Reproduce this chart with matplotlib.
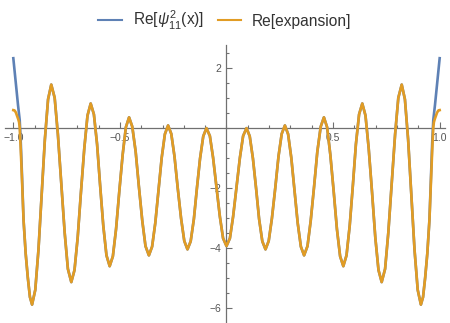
import numpy as np
import matplotlib
matplotlib.use('Agg')
import matplotlib.pyplot as plt
from matplotlib.ticker import MultipleLocator, FixedLocator

plt.rcParams['font.family'] = ['Liberation Sans', 'DejaVu Sans']
plt.rcParams['mathtext.fontset'] = 'custom'
plt.rcParams['mathtext.rm'] = 'Liberation Sans'
plt.rcParams['mathtext.it'] = 'Liberation Sans:italic'

# right half of the curve (x >= 0); the plot is symmetric
x_half = [0, 0.016, 0.031, 0.047, 0.063, 0.078, 0.094, 0.109, 0.124, 0.139,
          0.153, 0.168, 0.183, 0.198, 0.213, 0.229, 0.244, 0.259, 0.274, 0.289,
          0.304, 0.319, 0.334, 0.349, 0.364, 0.380, 0.395, 0.411, 0.426, 0.442,
          0.457, 0.472, 0.487, 0.503, 0.518, 0.533, 0.548, 0.563, 0.578, 0.593,
          0.607, 0.622, 0.637, 0.652, 0.667, 0.683, 0.698, 0.713, 0.728, 0.744,
          0.759, 0.775, 0.791, 0.806, 0.822, 0.837, 0.852, 0.867, 0.882, 0.897,
          0.912, 0.922, 0.932, 0.942, 0.952, 0.960, 0.965, 0.970, 0.973, 0.977,
          0.982, 0.988, 0.994, 1.000]
expansion_half = [-3.95, -3.69, -2.97, -1.99, -1.00, -0.28, -0.02, -0.29, -1.03, -2.04,
                  -3.05, -3.79, -4.06, -3.78, -3.03, -2.00, -0.96, -0.21, 0.07, -0.22,
                  -1.01, -2.10, -3.18, -3.97, -4.26, -3.95, -3.11, -1.96, -0.81, 0.03,
                  0.34, 0.01, -0.90, -2.14, -3.38, -4.29, -4.62, -4.26, -3.27, -1.91,
                  -0.56, 0.44, 0.80, 0.40, -0.69, -2.18, -3.66, -4.75, -5.15, -4.71,
                  -3.51, -1.86, -0.22, 0.99, 1.43, 0.94, -0.40, -2.24, -4.07, -5.41,
                  -5.90, -5.65, -5.00, -4.20, -3.08, -1.60, -0.75, 0.00, 0.18, 0.28,
                  0.38, 0.50, 0.57, 0.58]

# where the exact function leaves the expansion near the ends
psi_tail_x = [0.960, 0.965, 0.970, 0.978, 0.985, 0.993, 1.000]
psi_tail_y = [-1.45, -0.50, 0.25, 0.75, 1.25, 1.80, 2.31]

xh = np.array(x_half)
yh = np.array(expansion_half)
keep = xh <= 0.952
px_half = np.concatenate([xh[keep], psi_tail_x])
py_half = np.concatenate([yh[keep], psi_tail_y])


def mirror(x, y):
    x = np.asarray(x)
    y = np.asarray(y)
    return np.concatenate([-x[::-1], x[1:]]), np.concatenate([y[::-1], y[1:]])


x_exp, y_exp = mirror(xh, yh)
x_psi, y_psi = mirror(px_half, py_half)

blue = '#5E81B5'
orange = '#E19C24'
axis_col = '#707070'
text_col = '#555555'

fig = plt.figure(figsize=(4.5, 3.23), dpi=100)
ax = fig.add_axes([5 / 450, 1 / 323, 440 / 450, 277 / 323])

ax.plot(x_psi, y_psi, color=blue, lw=1.9, label=r'Re[$\psi^{2}_{11}$(x)]', zorder=3,
        solid_joinstyle='round')
ax.plot(x_exp, y_exp, color=orange, lw=1.9, label='Re[expansion]', zorder=3,
        solid_joinstyle='round')

ax.set_xlim(-1.039, 1.025)
ax.set_ylim(-6.48, 2.75)

for s in ['top', 'right']:
    ax.spines[s].set_visible(False)
ax.spines['left'].set_position(('data', 0))
ax.spines['bottom'].set_position(('data', 0))
for s in ['left', 'bottom']:
    ax.spines[s].set_color(axis_col)
    ax.spines[s].set_linewidth(0.9)

ax.xaxis.set_major_locator(FixedLocator([-1.0, -0.5, 0.5, 1.0]))
ax.xaxis.set_minor_locator(MultipleLocator(0.1))
ax.yaxis.set_major_locator(FixedLocator([-6, -4, -2, 2]))
ax.yaxis.set_minor_locator(MultipleLocator(0.5))
ax.set_xticklabels(['\u22121.0', '\u22120.5', '0.5', '1.0'])
ax.set_yticklabels(['\u22126', '\u22124', '\u22122', '2'])

ax.tick_params(which='both', direction='in', color=axis_col, width=0.8,
               labelcolor=text_col, labelsize=7.5)
ax.tick_params(which='major', length=4, pad=4)
ax.tick_params(which='minor', length=2.5)
ax.patch.set_visible(False)

leg = fig.legend(loc='upper center', bbox_to_anchor=(0.5, 1.015), ncol=2, frameon=False,
                 fontsize=11.2, handlelength=1.5, handletextpad=0.7, columnspacing=0.9,
                 labelcolor='#333333')
for h in leg.legend_handles:
    h.set_linewidth(1.5)

fig.savefig('out.png', dpi=100)
